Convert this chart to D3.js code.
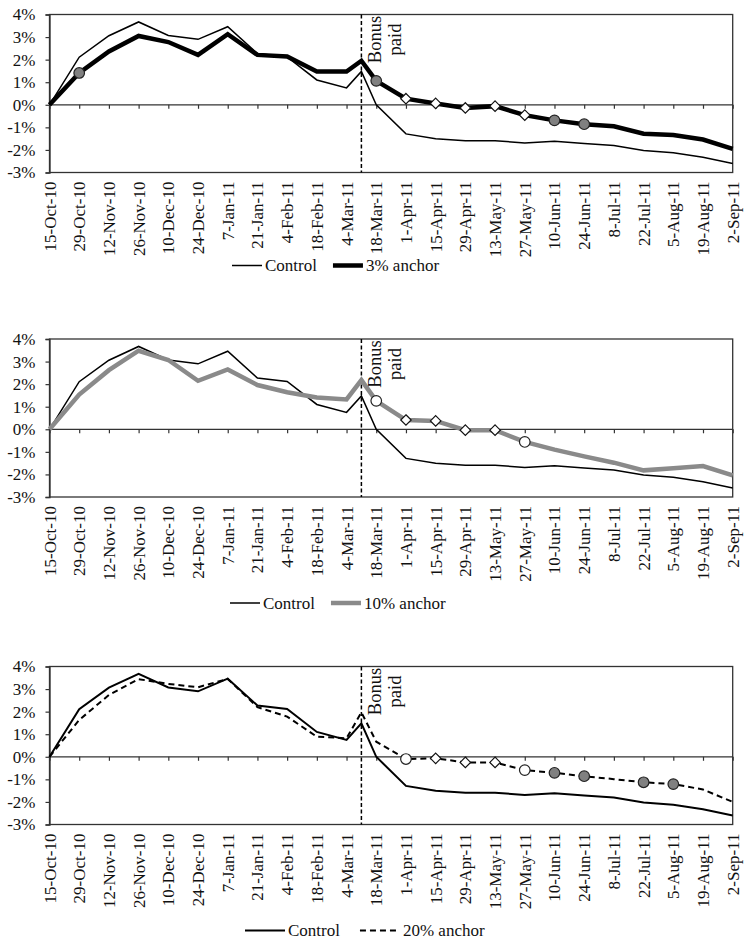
<!DOCTYPE html>
<html>
<head>
<meta charset="utf-8">
<script src="https://cdn.jsdelivr.net/npm/d3@7"></script>
<style>
  html, body { margin: 0; padding: 0; background: #fff; }
  svg { display: block; }
</style>
</head>
<body>
<svg id="chart" width="751" height="944"></svg>
<script>
// ---------- DATA ----------
const tickLabels = ["15-Oct-10","29-Oct-10","12-Nov-10","26-Nov-10","10-Dec-10","24-Dec-10","7-Jan-11","21-Jan-11","4-Feb-11","18-Feb-11","4-Mar-11","18-Mar-11","1-Apr-11","15-Apr-11","29-Apr-11","13-May-11","27-May-11","10-Jun-11","24-Jun-11","8-Jul-11","22-Jul-11","5-Aug-11","19-Aug-11","2-Sep-11"];
const pointDates = ["15-Oct-10","29-Oct-10","12-Nov-10","26-Nov-10","10-Dec-10","24-Dec-10","7-Jan-11","21-Jan-11","4-Feb-11","18-Feb-11","4-Mar-11","11-Mar-11","18-Mar-11","1-Apr-11","15-Apr-11","29-Apr-11","13-May-11","27-May-11","10-Jun-11","24-Jun-11","8-Jul-11","22-Jul-11","5-Aug-11","19-Aug-11","2-Sep-11"];
const bonusDate = "11-Mar-11";
const yTicks = [-3, -2, -1, 0, 1, 2, 3, 4];

const control  = [0, 2.11, 3.06, 3.67, 3.07, 2.90, 3.46, 2.27, 2.12, 1.10, 0.75, 1.48, 0, -1.29, -1.50, -1.59, -1.59, -1.69, -1.62, -1.72, -1.80, -2.03, -2.13, -2.32, -2.60];
const anchor3  = [0, 1.41, 2.36, 3.05, 2.78, 2.21, 3.13, 2.21, 2.14, 1.47, 1.47, 1.95, 1.06, 0.27, 0.06, -0.14, -0.06, -0.46, -0.69, -0.86, -0.95, -1.28, -1.34, -1.54, -1.95];
const anchor10 = [0, 1.54, 2.62, 3.48, 3.07, 2.15, 2.65, 1.96, 1.64, 1.41, 1.32, 2.18, 1.26, 0.41, 0.37, -0.04, -0.04, -0.56, -0.90, -1.20, -1.48, -1.82, -1.73, -1.63, -2.04];
const anchor20 = [0, 1.63, 2.74, 3.44, 3.23, 3.08, 3.45, 2.20, 1.78, 0.89, 0.82, 1.97, 0.67, -0.10, -0.07, -0.25, -0.25, -0.59, -0.71, -0.86, -0.99, -1.13, -1.21, -1.45, -2.00];

// marker types: g = grey circle, o = open circle, d = open diamond
const markers3  = [["29-Oct-10","g"],["18-Mar-11","g"],["1-Apr-11","d"],["15-Apr-11","d"],["29-Apr-11","d"],["13-May-11","d"],["27-May-11","d"],["10-Jun-11","g"],["24-Jun-11","g"]];
const markers10 = [["18-Mar-11","o"],["1-Apr-11","d"],["15-Apr-11","d"],["29-Apr-11","d"],["13-May-11","d"],["27-May-11","o"]];
const markers20 = [["1-Apr-11","o"],["15-Apr-11","d"],["29-Apr-11","d"],["13-May-11","d"],["27-May-11","o"],["10-Jun-11","g"],["24-Jun-11","g"],["22-Jul-11","g"],["5-Aug-11","g"]];

const seriesNames = ["Control", "3% anchor", "10% anchor", "20% anchor"];

// ---------- LAYOUT ----------
const FONT = '"Liberation Serif", "Times New Roman", Tinos, serif';
const FS = 17;
const parse = d3.utcParse("%d-%b-%y");
const svg = d3.select("#chart");
const L = 49.5, R = 732.7, H = 158;
const panelTops = [14.5, 339, 666.5];

const x = d3.scaleUtc().domain([parse(tickLabels[0]), parse(tickLabels[tickLabels.length - 1])]).range([L, R]);

const panels = [
  { top: panelTops[0], anchor: anchor3, markers: markers3, name: seriesNames[1],
    ctrlW: 1.5, aColor: "#000", aW: 4.5, aDash: null, legY: 93, legX: 232, sw: 30, gap: 16 },
  { top: panelTops[1], anchor: anchor10, markers: markers10, name: seriesNames[2],
    ctrlW: 1.5, aColor: "#8a8a8a", aW: 4.5, aDash: null, legY: 106, legX: 230, sw: 30, gap: 16 },
  { top: panelTops[2], anchor: anchor20, markers: markers20, name: seriesNames[3],
    ctrlW: 2, aColor: "#000", aW: 2, aDash: "6,4", legY: 106, legX: 245, sw: 40, gap: 20 }
];

function txt(sel, size) {
  return sel.style("font-family", FONT).style("font-size", (size || FS) + "px").attr("fill", "#111");
}

panels.forEach(p => {
  const top = p.top, bottom = top + H;
  const y = d3.scaleLinear().domain([-3, 4]).range([bottom, top]);
  const g = svg.append("g");

  // frame
  g.append("rect").attr("x", L).attr("y", top).attr("width", R - L).attr("height", H)
    .attr("fill", "none").attr("stroke", "#333").attr("stroke-width", 1.3);

  // left axis
  const ya = g.append("g").attr("transform", `translate(${L},0)`)
    .call(d3.axisLeft(y).tickValues(yTicks).tickSize(4).tickPadding(10).tickFormat(d => d + "%"));
  ya.attr("font-family", null).attr("font-size", null);
  ya.select(".domain").attr("stroke", "#333").attr("stroke-width", 1.3);
  ya.selectAll(".tick line").attr("stroke", "#333").attr("stroke-width", 1.2);
  txt(ya.selectAll("text"));

  // zero axis with ticks
  const xa = g.append("g").attr("transform", `translate(0,${y(0)})`)
    .call(d3.axisBottom(x).tickValues(tickLabels.map(parse)).tickSize(4).tickFormat(""));
  xa.select(".domain").attr("stroke", "#333").attr("stroke-width", 1.3).attr("d", `M${L},0H${R}`);
  xa.selectAll(".tick line").attr("stroke", "#333").attr("stroke-width", 1.2);

  // x tick labels (rotated)
  txt(g.selectAll("text.xl").data(tickLabels).enter().append("text")
    .attr("class", "xl")
    .attr("transform", d => `translate(${x(parse(d)) + 6},${bottom + 9}) rotate(-90)`)
    .attr("text-anchor", "end")
    .text(d => d));

  // bonus line
  const bx = x(parse(bonusDate));
  g.append("line").attr("x1", bx).attr("x2", bx).attr("y1", top).attr("y2", bottom)
    .attr("stroke", "#000").attr("stroke-width", 1.5).attr("stroke-dasharray", "4,2.5");
  txt(g.append("text").attr("transform", `translate(${bx + 20},${top + 25}) rotate(-90)`)
    .attr("text-anchor", "middle").text("Bonus"), 18.5);
  txt(g.append("text").attr("transform", `translate(${bx + 39.5},${top + 25}) rotate(-90)`)
    .attr("text-anchor", "middle").text("paid"), 18.5);

  const line = d3.line().x((d, i) => x(parse(pointDates[i]))).y(d => y(d));

  // control
  g.append("path").datum(control).attr("d", line)
    .attr("fill", "none").attr("stroke", "#000").attr("stroke-width", p.ctrlW).attr("stroke-linejoin", "miter");
  // anchor
  g.append("path").datum(p.anchor).attr("d", line)
    .attr("fill", "none").attr("stroke", p.aColor).attr("stroke-width", p.aW)
    .attr("stroke-dasharray", p.aDash).attr("stroke-linejoin", "miter");

  // markers
  const mk = p.markers.map(([dt, t]) => ({ dt, t, v: p.anchor[pointDates.indexOf(dt)] }));
  mk.forEach(m => {
    const cx = x(parse(m.dt)), cy = y(m.v);
    if (m.t === "d") {
      g.append("path").attr("d", d3.symbol().type(d3.symbolDiamond2).size(70)())
        .attr("transform", `translate(${cx},${cy})`)
        .attr("fill", "#fff").attr("stroke", "#111").attr("stroke-width", 1.2);
    } else {
      g.append("circle").attr("cx", cx).attr("cy", cy).attr("r", 5.3)
        .attr("fill", m.t === "g" ? "#808080" : "#fff").attr("stroke", "#222").attr("stroke-width", 1.2);
    }
  });

  // legend
  const ly = bottom + p.legY;
  const lg = g.append("g").attr("transform", `translate(${p.legX},0)`);
  const items = [
    { name: seriesNames[0], color: "#000", w: p.ctrlW, dash: null },
    { name: p.name, color: p.aColor, w: p.aW, dash: p.aDash }
  ];
  let cur = 0;
  items.forEach(it => {
    const ig = lg.append("g").attr("transform", `translate(${cur},0)`);
    ig.append("line").attr("x1", 0).attr("x2", p.sw).attr("y1", ly).attr("y2", ly)
      .attr("stroke", it.color).attr("stroke-width", it.w).attr("stroke-dasharray", it.dash);
    const t = txt(ig.append("text").attr("x", p.sw + 3).attr("y", ly).attr("dy", "0.35em").text(it.name));
    cur += p.sw + 3 + t.node().getComputedTextLength() + p.gap;
  });
});
</script>
</body>
</html>
